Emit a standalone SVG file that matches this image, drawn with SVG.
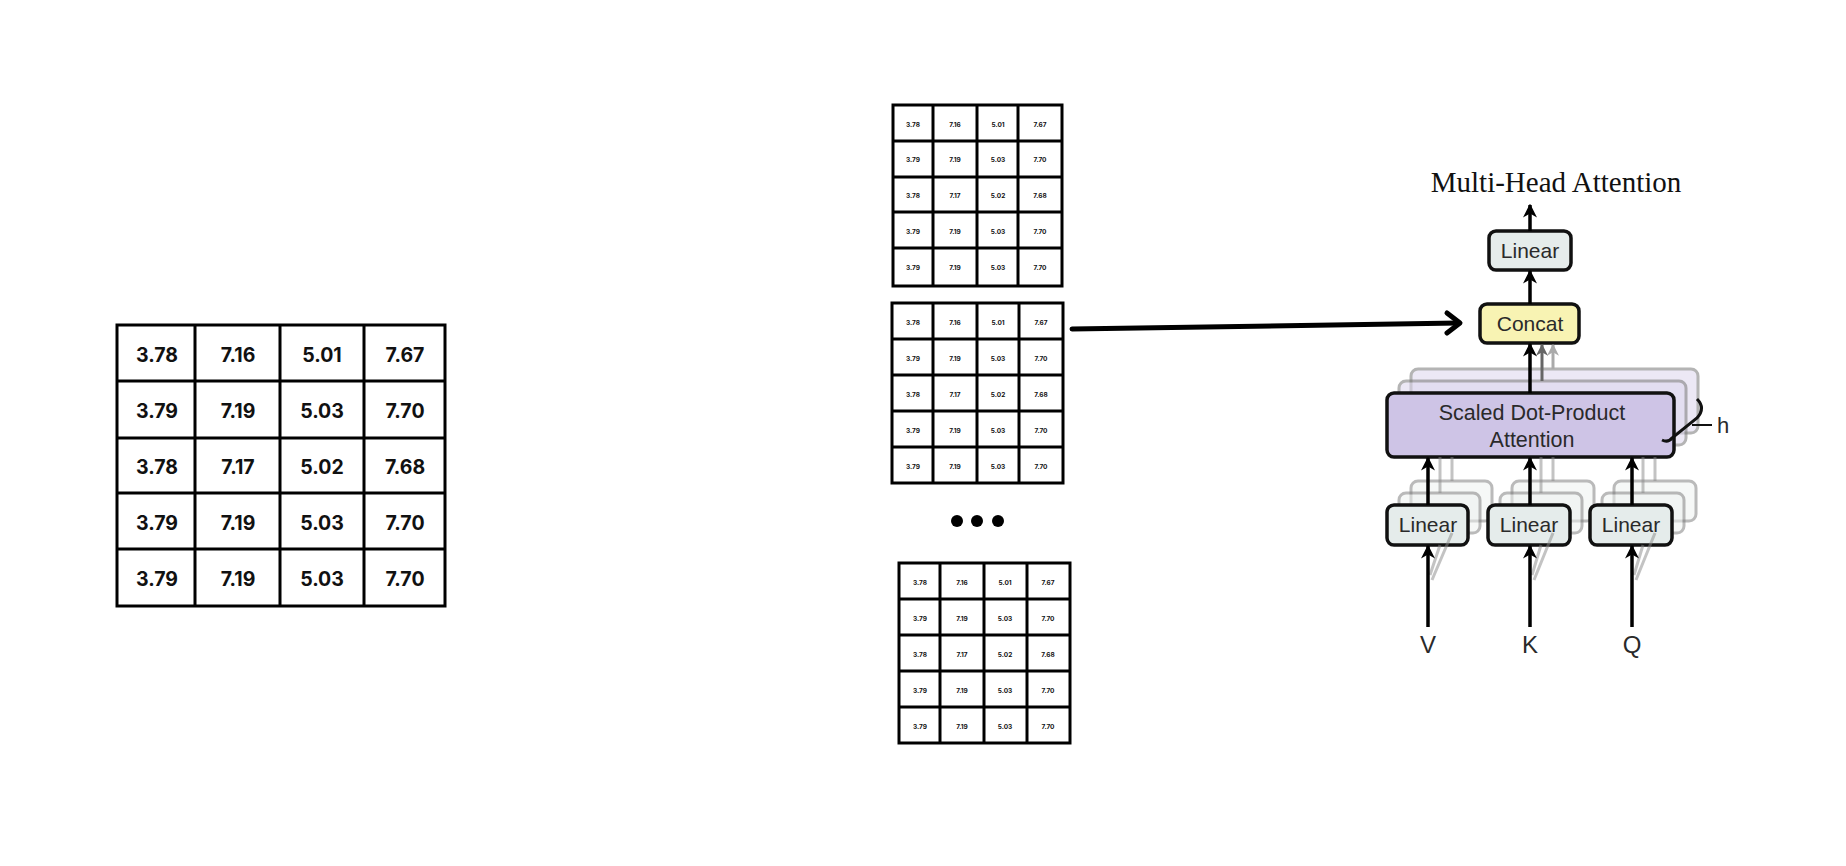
<svg xmlns="http://www.w3.org/2000/svg" width="1846" height="866" viewBox="0 0 1846 866">
<defs>
<style>
.grid{fill:#fff;stroke:#000;stroke-width:3}
.gl{stroke:#000;stroke-width:3}
.big{font-family:Inter,"Liberation Sans",sans-serif;font-weight:700;font-size:19.5px;text-anchor:middle;fill:#111}
.sm{font-family:Inter,"Liberation Sans",sans-serif;font-weight:700;font-size:6.5px;text-anchor:middle;fill:#111}
.lbl{font-family:"Liberation Sans",Arial,sans-serif;font-size:21px;text-anchor:middle;fill:#2a2a2a}
.title{font-family:"Liberation Serif","Times New Roman",serif;font-size:29px;text-anchor:middle;fill:#111}
.lin{fill:#e5eceb;stroke:#111;stroke-width:3.5}
.linc{fill:#eef2f1;stroke:#777;stroke-width:3;opacity:.5}
.att{fill:#cec4e6;stroke:#111;stroke-width:3.5}
.attc{fill:#ddd6ee;stroke:#777;stroke-width:3;opacity:.55}
.con{fill:#f8f3b3;stroke:#111;stroke-width:3.5}
.ar{stroke:#000;stroke-width:3.5;fill:none;marker-end:url(#ah)}
.arg{stroke:#666;stroke-width:3;fill:none;marker-end:url(#ahg)}
.arl{stroke:#aaa;stroke-width:3;fill:none;marker-end:url(#ahl)}
.ghost{stroke:#888;stroke-width:3;fill:none;opacity:.5}
</style>
<marker id="ah" viewBox="0 0 10 10" refX="9" refY="5" markerWidth="4" markerHeight="4" orient="auto" markerUnits="strokeWidth"><path d="M0,0 L10,5 L0,10 L3,5 Z" fill="#000"/></marker>
<marker id="ahg" viewBox="0 0 10 10" refX="9" refY="5" markerWidth="4" markerHeight="4" orient="auto" markerUnits="strokeWidth"><path d="M0,0 L10,5 L0,10 L3,5 Z" fill="#666"/></marker>
<marker id="ahl" viewBox="0 0 10 10" refX="9" refY="5" markerWidth="4" markerHeight="4" orient="auto" markerUnits="strokeWidth"><path d="M0,0 L10,5 L0,10 L3,5 Z" fill="#aaa"/></marker>
</defs>
<rect width="1846" height="866" fill="#fff"/>

<!-- Left table -->
<g id="table-main">
<rect class="grid" x="117" y="325" width="328" height="281"/>
<line class="gl" x1="195" y1="325" x2="195" y2="606"/>
<line class="gl" x1="280" y1="325" x2="280" y2="606"/>
<line class="gl" x1="364" y1="325" x2="364" y2="606"/>
<line class="gl" x1="117" y1="381" x2="445" y2="381"/>
<line class="gl" x1="117" y1="438" x2="445" y2="438"/>
<line class="gl" x1="117" y1="493" x2="445" y2="493"/>
<line class="gl" x1="117" y1="549" x2="445" y2="549"/>
<g class="big">
<text x="157" y="362">3.78</text><text x="238" y="362">7.16</text><text x="322" y="362">5.01</text><text x="405" y="362">7.67</text>
<text x="157" y="418">3.79</text><text x="238" y="418">7.19</text><text x="322" y="418">5.03</text><text x="405" y="418">7.70</text>
<text x="157" y="474">3.78</text><text x="238" y="474">7.17</text><text x="322" y="474">5.02</text><text x="405" y="474">7.68</text>
<text x="157" y="530">3.79</text><text x="238" y="530">7.19</text><text x="322" y="530">5.03</text><text x="405" y="530">7.70</text>
<text x="157" y="586">3.79</text><text x="238" y="586">7.19</text><text x="322" y="586">5.03</text><text x="405" y="586">7.70</text>
</g>
</g>

<!-- Head table 1 -->
<g id="table-head-1">
<rect class="grid" x="893" y="105" width="169" height="181"/>
<line class="gl" x1="933" y1="105" x2="933" y2="286"/>
<line class="gl" x1="977" y1="105" x2="977" y2="286"/>
<line class="gl" x1="1018" y1="105" x2="1018" y2="286"/>
<line class="gl" x1="893" y1="141" x2="1062" y2="141"/>
<line class="gl" x1="893" y1="177" x2="1062" y2="177"/>
<line class="gl" x1="893" y1="212" x2="1062" y2="212"/>
<line class="gl" x1="893" y1="248" x2="1062" y2="248"/>
<g class="sm">
<text x="913" y="127">3.78</text><text x="955" y="127">7.16</text><text x="998" y="127">5.01</text><text x="1040" y="127">7.67</text>
<text x="913" y="162">3.79</text><text x="955" y="162">7.19</text><text x="998" y="162">5.03</text><text x="1040" y="162">7.70</text>
<text x="913" y="198">3.78</text><text x="955" y="198">7.17</text><text x="998" y="198">5.02</text><text x="1040" y="198">7.68</text>
<text x="913" y="234">3.79</text><text x="955" y="234">7.19</text><text x="998" y="234">5.03</text><text x="1040" y="234">7.70</text>
<text x="913" y="270">3.79</text><text x="955" y="270">7.19</text><text x="998" y="270">5.03</text><text x="1040" y="270">7.70</text>
</g>
</g>

<!-- Head table 2 -->
<g id="table-head-2">
<rect class="grid" x="892" y="303" width="171" height="180"/>
<line class="gl" x1="933" y1="303" x2="933" y2="483"/>
<line class="gl" x1="977" y1="303" x2="977" y2="483"/>
<line class="gl" x1="1019" y1="303" x2="1019" y2="483"/>
<line class="gl" x1="892" y1="339" x2="1063" y2="339"/>
<line class="gl" x1="892" y1="375" x2="1063" y2="375"/>
<line class="gl" x1="892" y1="411" x2="1063" y2="411"/>
<line class="gl" x1="892" y1="447" x2="1063" y2="447"/>
<g class="sm">
<text x="913" y="325">3.78</text><text x="955" y="325">7.16</text><text x="998" y="325">5.01</text><text x="1041" y="325">7.67</text>
<text x="913" y="361">3.79</text><text x="955" y="361">7.19</text><text x="998" y="361">5.03</text><text x="1041" y="361">7.70</text>
<text x="913" y="397">3.78</text><text x="955" y="397">7.17</text><text x="998" y="397">5.02</text><text x="1041" y="397">7.68</text>
<text x="913" y="433">3.79</text><text x="955" y="433">7.19</text><text x="998" y="433">5.03</text><text x="1041" y="433">7.70</text>
<text x="913" y="469">3.79</text><text x="955" y="469">7.19</text><text x="998" y="469">5.03</text><text x="1041" y="469">7.70</text>
</g>
</g>

<!-- Ellipsis -->
<g id="ellipsis" fill="#000">
<circle cx="957" cy="521" r="6"/>
<circle cx="977" cy="521" r="6"/>
<circle cx="998" cy="521" r="6"/>
</g>

<!-- Head table 3 -->
<g id="table-head-3">
<rect class="grid" x="899" y="563" width="171" height="180"/>
<line class="gl" x1="940" y1="563" x2="940" y2="743"/>
<line class="gl" x1="984" y1="563" x2="984" y2="743"/>
<line class="gl" x1="1027" y1="563" x2="1027" y2="743"/>
<line class="gl" x1="899" y1="599" x2="1070" y2="599"/>
<line class="gl" x1="899" y1="635" x2="1070" y2="635"/>
<line class="gl" x1="899" y1="671" x2="1070" y2="671"/>
<line class="gl" x1="899" y1="707" x2="1070" y2="707"/>
<g class="sm">
<text x="920" y="585">3.78</text><text x="962" y="585">7.16</text><text x="1005" y="585">5.01</text><text x="1048" y="585">7.67</text>
<text x="920" y="621">3.79</text><text x="962" y="621">7.19</text><text x="1005" y="621">5.03</text><text x="1048" y="621">7.70</text>
<text x="920" y="657">3.78</text><text x="962" y="657">7.17</text><text x="1005" y="657">5.02</text><text x="1048" y="657">7.68</text>
<text x="920" y="693">3.79</text><text x="962" y="693">7.19</text><text x="1005" y="693">5.03</text><text x="1048" y="693">7.70</text>
<text x="920" y="729">3.79</text><text x="962" y="729">7.19</text><text x="1005" y="729">5.03</text><text x="1048" y="729">7.70</text>
</g>
</g>

<!-- Multi-head attention figure nodes -->
<g id="title"><text class="title" x="1556" y="192">Multi-Head Attention</text></g>

<g id="linear-out">
<rect class="lin" x="1489" y="231" width="82" height="39" rx="7"/>
<text class="lbl" x="1530" y="258">Linear</text>
</g>

<g id="concat">
<rect class="con" x="1480" y="304" width="99" height="39" rx="7"/>
<text class="lbl" x="1530" y="331">Concat</text>
</g>

<g id="attention">
<rect class="attc" x="1411" y="369" width="287" height="64" rx="7"/>
<rect class="attc" x="1399" y="381" width="287" height="64" rx="7"/>
<rect class="att" x="1387" y="393" width="287" height="64" rx="7"/>
<text class="lbl" x="1532" y="420" style="font-size:21.5px">Scaled Dot-Product</text>
<text class="lbl" x="1532" y="447" style="font-size:21.5px">Attention</text>
</g>

<g id="h-label">
<path d="M1697,399 Q1706,408 1697,418 L1672,438 Q1668,443 1662,440" fill="none" stroke="#111" stroke-width="3"/>
<line x1="1692" y1="425" x2="1712" y2="425" stroke="#111" stroke-width="2"/>
<text class="lbl" x="1723" y="433" style="font-size:22px">h</text>
</g>

<g id="linear-v">
<rect class="linc" x="1411" y="481" width="81" height="40" rx="7"/>
<rect class="linc" x="1399" y="493" width="81" height="40" rx="7"/>
<rect class="lin" x="1387" y="505" width="81" height="40" rx="7"/>
<text class="lbl" x="1428" y="532">Linear</text>
</g>
<g id="linear-k">
<rect class="linc" x="1512" y="481" width="82" height="40" rx="7"/>
<rect class="linc" x="1500" y="493" width="82" height="40" rx="7"/>
<rect class="lin" x="1488" y="505" width="82" height="40" rx="7"/>
<text class="lbl" x="1529" y="532">Linear</text>
</g>
<g id="linear-q">
<rect class="linc" x="1614" y="481" width="82" height="40" rx="7"/>
<rect class="linc" x="1602" y="493" width="82" height="40" rx="7"/>
<rect class="lin" x="1590" y="505" width="82" height="40" rx="7"/>
<text class="lbl" x="1631" y="532">Linear</text>
</g>

<g id="input-v"><text class="lbl" x="1428" y="653" style="font-size:24px">V</text></g>
<g id="input-k"><text class="lbl" x="1530" y="653" style="font-size:24px">K</text></g>
<g id="input-q"><text class="lbl" x="1632" y="653" style="font-size:24px">Q</text></g>

<!-- Connectors -->
<g id="connectors">
<path d="M1072,329 L1458,323" stroke="#000" stroke-width="5" fill="none" stroke-linecap="round"/>
<path d="M1447,313 L1460,323 L1447,333" stroke="#000" stroke-width="5" fill="none" stroke-linecap="round" stroke-linejoin="round"/>

<path class="ar" d="M1530,231 V205"/>
<path class="ar" d="M1530,304 V271"/>
<path class="arl" d="M1553,369 V345"/>
<path class="arg" d="M1542,381 V345"/>
<path class="ar" d="M1530,393 V344"/>

<path class="ghost" d="M1440,493 V457 M1452,481 V457"/>
<path class="ghost" d="M1541,493 V457 M1553,481 V457"/>
<path class="ghost" d="M1643,493 V457 M1655,481 V457"/>
<path class="ar" d="M1428,505 V458"/>
<path class="ar" d="M1530,505 V458"/>
<path class="ar" d="M1632,505 V458"/>

<path class="ghost" d="M1430,575 L1440,545 M1432,580 L1452,533"/>
<path class="ghost" d="M1532,575 L1541,545 M1534,580 L1553,533"/>
<path class="ghost" d="M1634,575 L1643,545 M1636,580 L1655,533"/>
<path class="ar" d="M1428,627 V546"/>
<path class="ar" d="M1530,627 V546"/>
<path class="ar" d="M1632,627 V546"/>
</g>
</svg>
